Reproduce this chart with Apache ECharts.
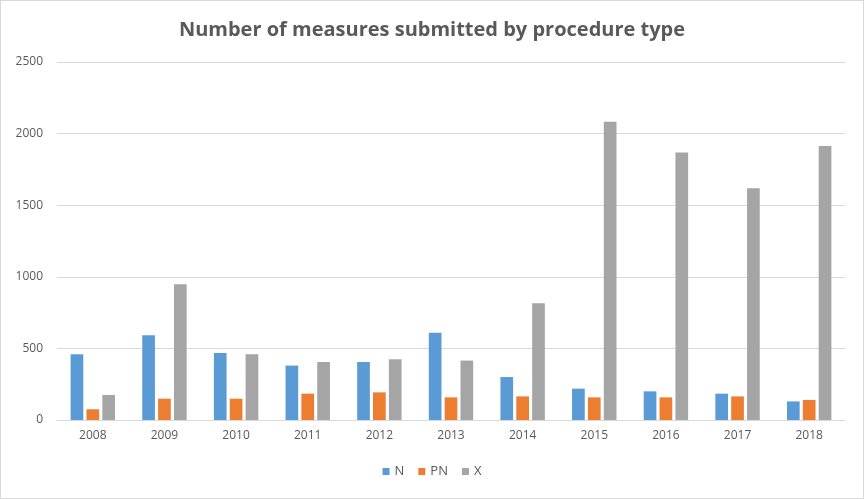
<!DOCTYPE html>
<html lang="en">
<head>
  <meta charset="UTF-8">
  <title>Number of measures submitted by procedure type</title>
  <style>
    html, body { margin: 0; padding: 0; width: 100%; height: 100%; background: #fff; }
    #main { width: 862px; height: 497px; border: 1px solid #d9d9d9; }
  </style>
</head>
<body>
  <div id="main"></div>
  <script src="https://cdn.jsdelivr.net/npm/echarts@6/dist/echarts.min.js"></script>
  <script type="text/javascript">
    // data
    var years = ['2008', '2009', '2010', '2011', '2012', '2013', '2014', '2015', '2016', '2017', '2018'];
    var nValues = [459, 592, 468, 380, 405, 610, 300, 219, 200, 184, 130];
    var pnValues = [75, 149, 149, 184, 193, 158, 165, 158, 158, 165, 140];
    var xValues = [175, 948, 459, 405, 424, 415, 815, 2082, 1868, 1618, 1913];

    var colors = ['#5B9BD5', '#ED7D31', '#A5A5A5'];
    var textColor = '#595959';

    var myChart = echarts.init(document.getElementById('main'));

    function bar(name, data) {
      return {
        name: name,
        type: 'bar',
        data: data,
        barGap: '25%',
        barCategoryGap: '38%',
        animation: false
      };
    }

    myChart.setOption({
      color: colors,
      textStyle: { fontFamily: 'Open Sans, Liberation Sans, sans-serif' },
      title: {
        text: 'Number of measures submitted by procedure type',
        left: 'center',
        top: 14,
        textStyle: { fontSize: 20, fontWeight: 'bold', color: textColor }
      },
      legend: {
        bottom: 15,
        left: 'center',
        itemWidth: 7,
        itemHeight: 7,
        itemGap: 14,
        icon: 'rect',
        textStyle: { color: textColor, fontSize: 13 }
      },
      grid: { left: 56, right: 18, top: 61, bottom: 78 },
      xAxis: {
        type: 'category',
        data: years,
        axisTick: { show: false },
        axisLine: { lineStyle: { color: '#d9d9d9' } },
        axisLabel: { color: textColor, fontSize: 12, margin: 10 }
      },
      yAxis: {
        type: 'value',
        min: 0,
        max: 2500,
        interval: 500,
        axisLine: { show: false },
        axisTick: { show: false },
        splitLine: { lineStyle: { color: '#d9d9d9' } },
        axisLabel: {
          color: textColor,
          fontSize: 12,
          margin: 14,
          formatter: function (v) { return String(v); }
        }
      },
      series: [
        bar('N', nValues),
        bar('PN', pnValues),
        bar('X', xValues)
      ]
    });
  </script>
</body>
</html>
